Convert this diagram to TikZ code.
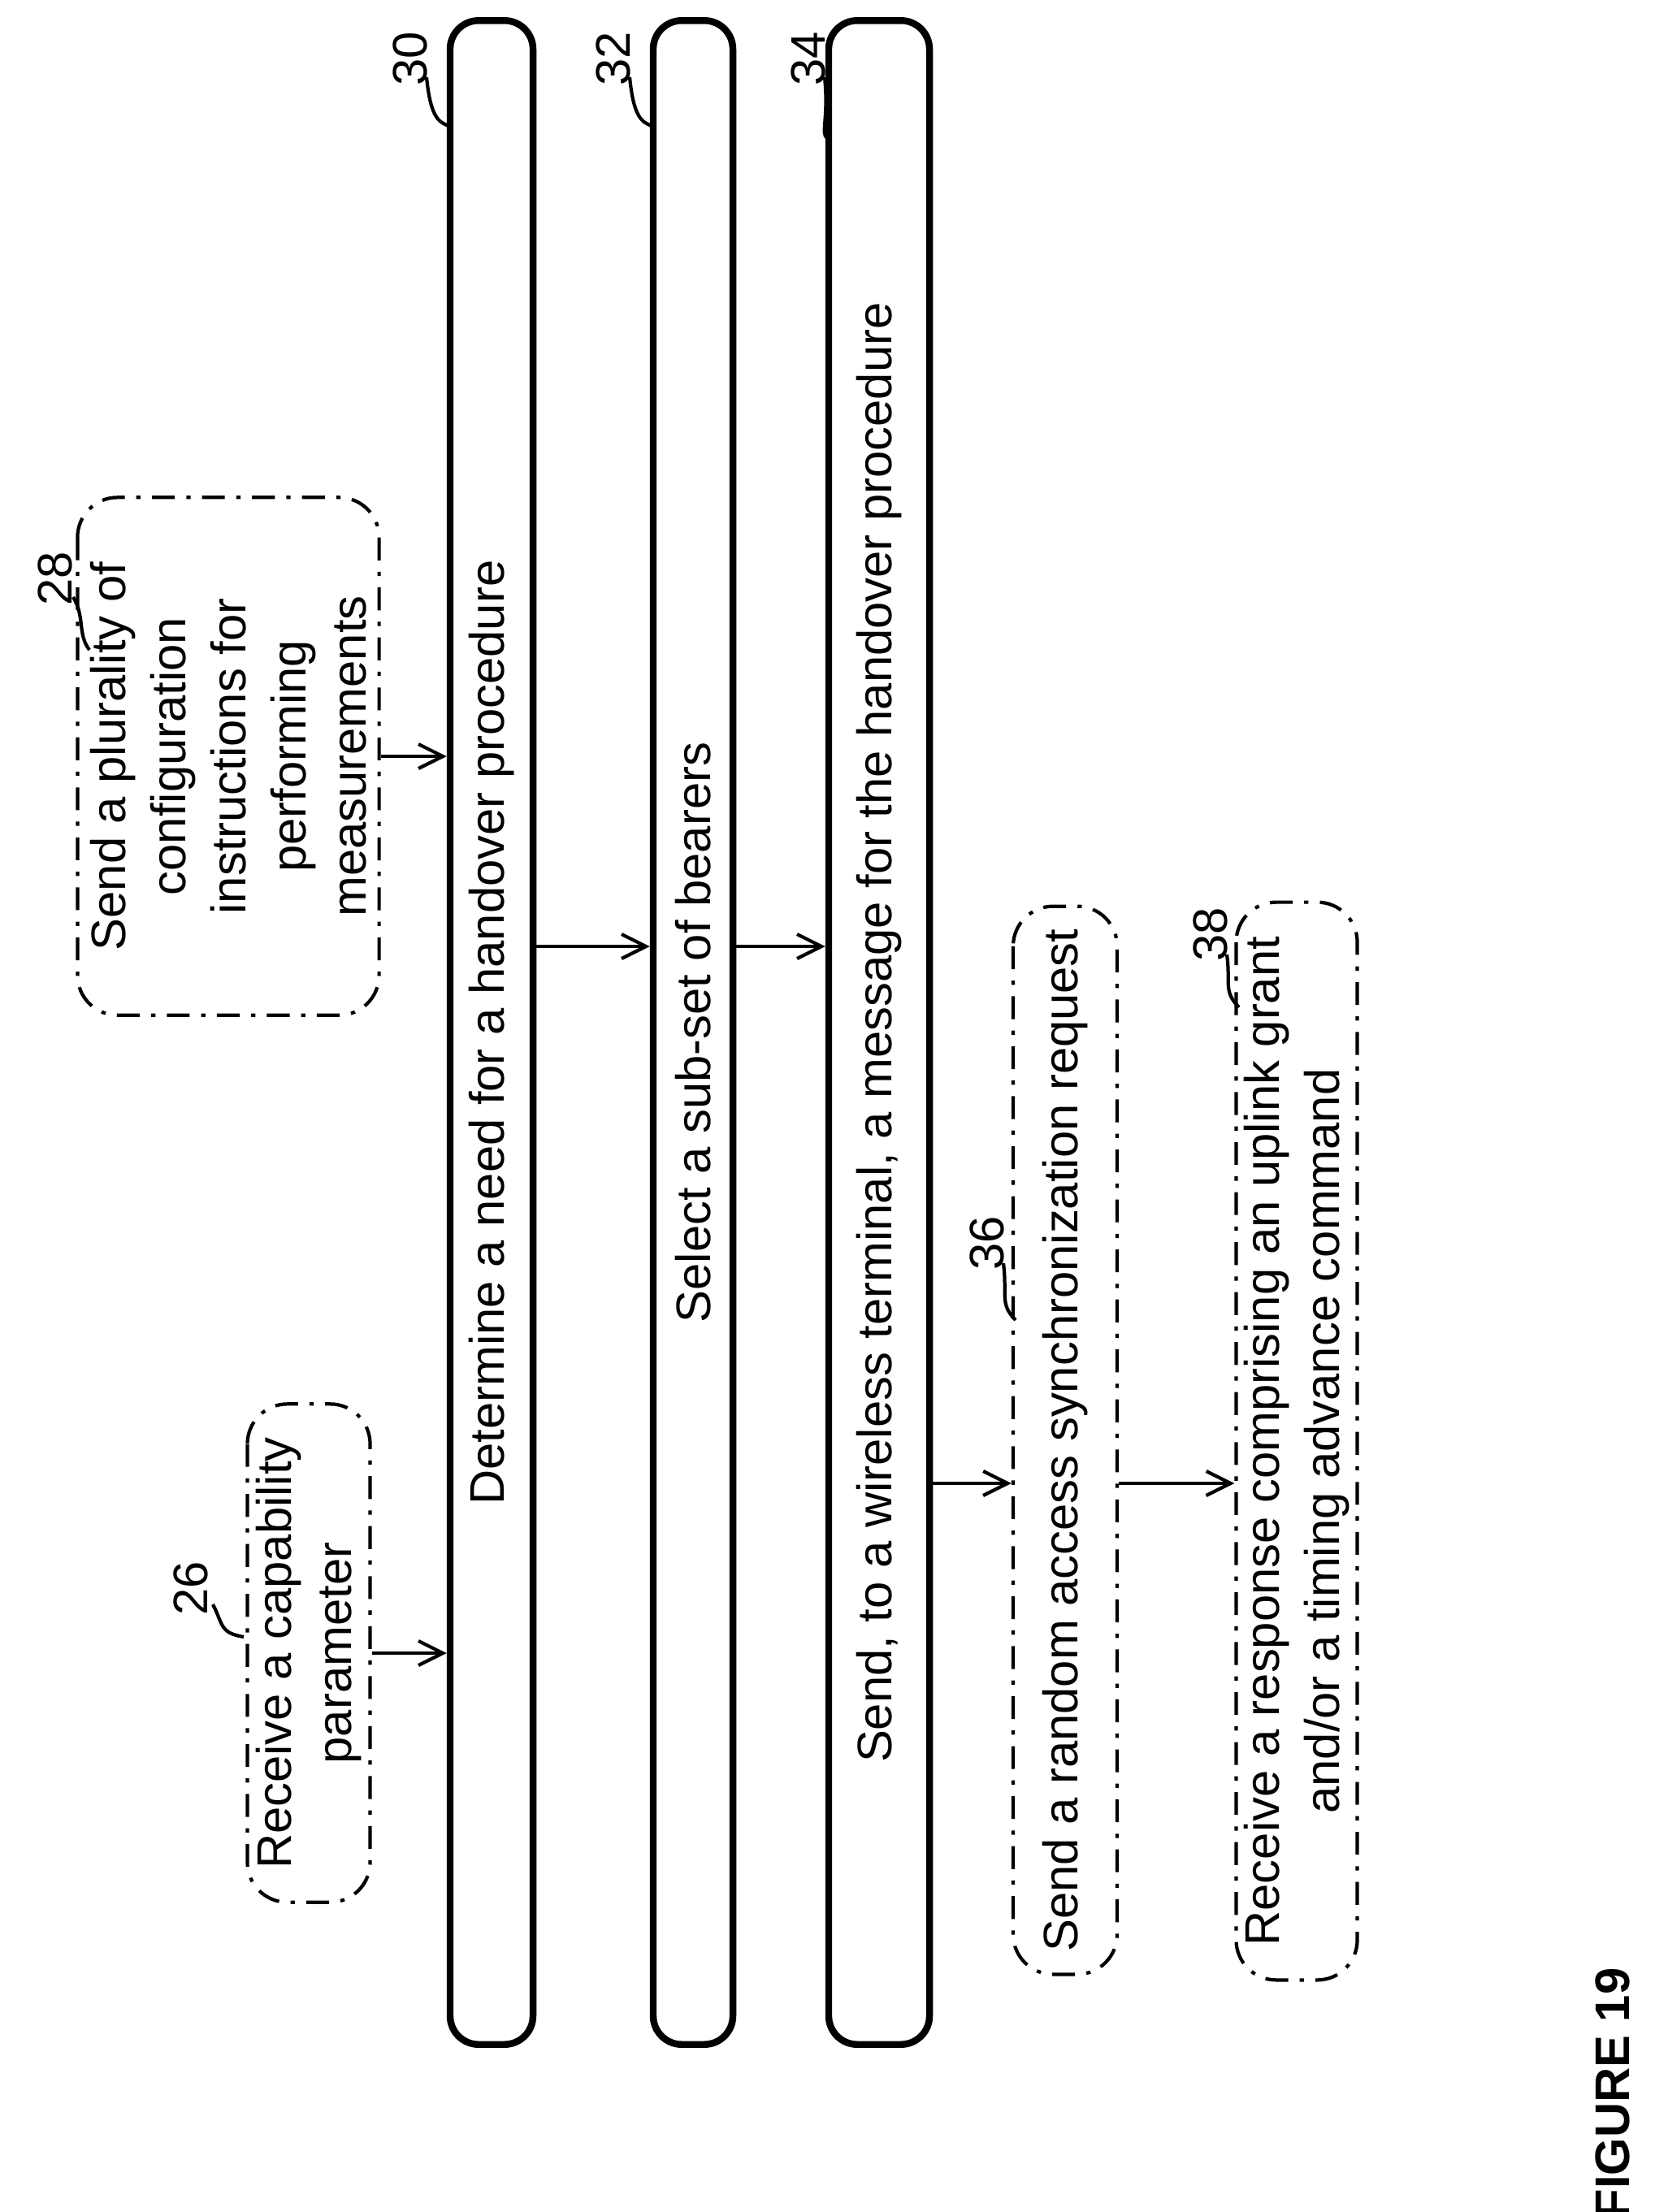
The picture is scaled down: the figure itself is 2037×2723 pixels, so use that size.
\documentclass[tikz,border=0pt]{standalone}
\usepackage{fontspec}
\setmainfont{Liberation Sans}
\usetikzlibrary{arrows.meta}
\begin{document}
\begin{tikzpicture}[x=0.01cm,y=-0.01cm,>={Straight Barb[length=3mm,width=3mm]},
  step box/.style={draw,rotate=90,rounded corners=10pt,line width=2.4pt,inner sep=0pt,
    font=\fontsize{17}{21}\selectfont},
  option box/.style={draw,rotate=90,rounded corners=14pt,line width=1.2pt,
    dash pattern=on 8pt off 4pt on 1.5pt off 4pt,inner sep=0pt,align=center,
    font=\fontsize{17}{21}\selectfont},
  ref/.style={rotate=90,font=\fontsize{17}{21}\selectfont},
  lead/.style={line width=1.2pt}]
\useasboundingbox (0,0) rectangle (2037,2723);
% optional inputs
\node[option box,minimum width=6.13cm,minimum height=1.51cm] (b26) at (380,2035) {Receive a capability\\parameter};
\node[option box,minimum width=6.37cm,minimum height=3.71cm] (b28) at (281,931) {Send a plurality of\\configuration\\instructions for\\performing\\measurements};
% main steps
\node[step box,minimum width=24.9cm,minimum height=1.02cm] (b30) at (605,1271) {Determine a need for a handover procedure};
\node[step box,minimum width=24.9cm,minimum height=0.98cm] (b32) at (853,1271) {Select a sub-set of bearers};
\node[step box,minimum width=24.9cm,minimum height=1.24cm] (b34) at (1082,1271) {Send, to a wireless terminal, a message for the handover procedure};
% optional follow-ups
\node[option box,minimum width=13.14cm,minimum height=1.28cm] (b36) at (1311,1773) {Send a random access synchronization request};
\node[option box,minimum width=13.26cm,minimum height=1.49cm] (b38) at (1596,1774) {Receive a response comprising an uplink grant\\and/or a timing advance command};
% rows for the arrows
\coordinate (r1) at (0,1165);
\coordinate (r2) at (0,1826);
\draw[->,lead] (b26.south) -- (b26.south -| b30.north);
\draw[->,lead] (b28.south) -- (b28.south -| b30.north);
\draw[->,lead] (b30.south |- r1) -- (b32.north |- r1);
\draw[->,lead] (b32.south |- r1) -- (b34.north |- r1);
\draw[->,lead] (b34.south |- r2) -- (b36.north |- r2);
\draw[->,lead] (b36.south |- r2) -- (b38.north |- r2);
% reference numerals
\node[ref] (n26) at (235,1955) {26};
\node[ref] (n28) at (68,712) {28};
\node[ref] (n30) at (505,72) {30};
\node[ref] (n32) at (755,72) {32};
\node[ref] (n34) at (995,72) {34};
\node[ref] (n36) at (1215,1530) {36};
\node[ref] (n38) at (1490,1150) {38};
\draw[lead] (262,1975) .. controls (275,2000) and (270,2010) .. (300,2015);
\draw[lead] (90,735) .. controls (105,760) and (95,780) .. (110,800);
\draw[lead] (525,95) .. controls (530,145) and (540,150) .. (552,155);
\draw[lead] (775,95) .. controls (780,145) and (790,150) .. (802,155);
\draw[lead] (1015,95) .. controls (1020,145) and (1010,165) .. (1018,170);
\draw[lead] (1235,1555) .. controls (1240,1595) and (1230,1605) .. (1250,1625);
\draw[lead] (1510,1175) .. controls (1515,1210) and (1505,1220) .. (1525,1240);
\node[rotate=90,font=\fontsize{17}{21}\selectfont\bfseries] (fig) at (1985,2577) {FIGURE 19};
\end{tikzpicture}
\end{document}
